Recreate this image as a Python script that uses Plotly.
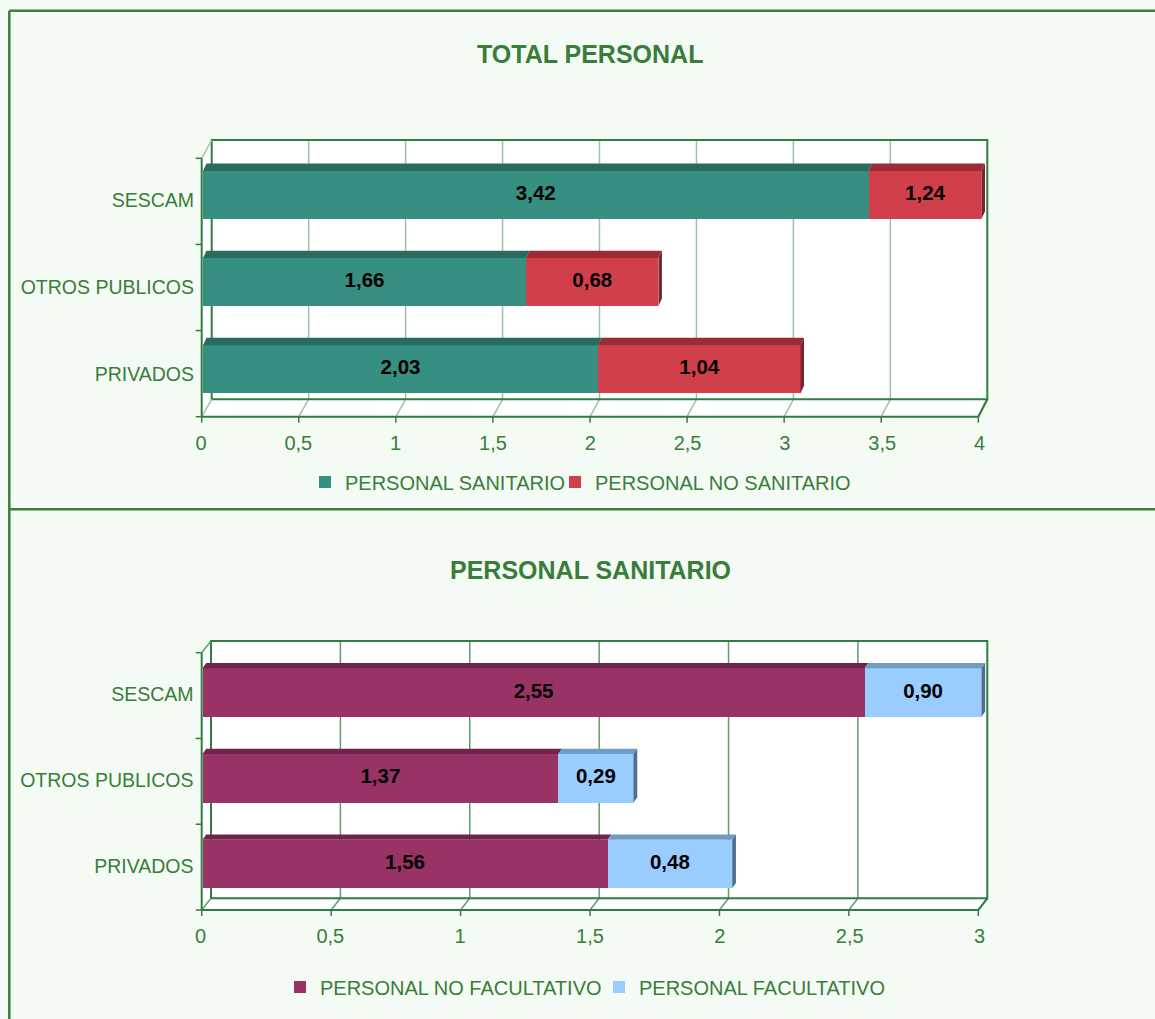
import plotly.graph_objects as go

# ---------------- data ----------------
categories = ["SESCAM", "OTROS PUBLICOS", "PRIVADOS"]

total_series_names = ["PERSONAL SANITARIO", "PERSONAL NO SANITARIO"]
total_sanitario = [3.42, 1.66, 2.03]
total_no_sanitario = [1.24, 0.68, 1.04]

san_series_names = ["PERSONAL NO FACULTATIVO", "PERSONAL FACULTATIVO"]
san_no_facultativo = [2.55, 1.37, 1.56]
san_facultativo = [0.90, 0.29, 0.48]

x1_tickvals = [0, 0.5, 1, 1.5, 2, 2.5, 3, 3.5, 4]
x1_ticktext = ["0", "0,5", "1", "1,5", "2", "2,5", "3", "3,5", "4"]
x2_tickvals = [0, 0.5, 1, 1.5, 2, 2.5, 3]
x2_ticktext = ["0", "0,5", "1", "1,5", "2", "2,5", "3"]

titles = ["TOTAL PERSONAL", "PERSONAL SANITARIO"]

# ---------------- style ----------------
W, H = 1155, 1019
BG = "#F4FBF4"
GREEN = "#3A7D3A"
DARK = "#2E7D46"
FONT = "Liberation Sans, Arial, sans-serif"

front_colors = [["#368F80", "#D13F4B"], ["#993366", "#99CCFF"]]
top_colors = [["#2A6B60", "#9B2B37"], ["#72234C", "#6F9CC4"]]
side_colors = [["#235A51", "#7A2430"], ["#5A1C3C", "#4E6E8E"]]

G = [
    dict(bar_x0=203.0, bar_x1=981.5, bar_y0=151.3, bar_y1=412.8,
         front_x0=201.7, front_x1=978.3, front_top=158.3, front_bottom=416.7,
         back_x0=211.7, back_x1=987.3, back_top=140.0, back_bottom=399.3,
         ddx=3.5, ddy=7.4, title_y=54, legend_y=482, legend_xs=[305, 555],
         grid="#9CC4A2", width=0.55, lshift=-5, xstand=16),
    dict(bar_x0=202.5, bar_x1=981.5, bar_y0=649.6, bar_y1=906.9,
         front_x0=201.7, front_x1=978.3, front_top=652.7, front_bottom=910.0,
         back_x0=211.0, back_x1=987.3, back_top=641.0, back_bottom=898.3,
         ddx=3.7, ddy=5.2, title_y=570, legend_y=987, legend_xs=[280, 599],
         grid="#5E9E68", width=0.566, lshift=-2, xstand=15),
]


def PX(x):
    return x / W


def PY(y):
    return 1 - y / H


def fmt(v):
    return f"{v:.2f}".replace(".", ",")


fig = go.Figure()
shapes = []
annotations = []

charts = [
    (total_series_names, [total_sanitario, total_no_sanitario], x1_tickvals, x1_ticktext),
    (san_series_names, [san_no_facultativo, san_facultativo], x2_tickvals, x2_ticktext),
]


def line(x0, y0, x1, y1, color, width):
    return dict(type="line", xref="paper", yref="paper", layer="below",
                x0=PX(x0), x1=PX(x1), y0=PY(y0), y1=PY(y1), line=dict(color=color, width=width))


legend_count = 0
for ci, (names, series, tickvals, ticktext) in enumerate(charts):
    g = G[ci]
    sfx = "" if ci == 0 else str(ci + 1)
    xa, ya = "x" + sfx, "y" + sfx
    xmax = tickvals[-1]
    n = len(categories)
    w = g["width"]

    # ----- 3D frame (paper coords) -----
    fs = (g["front_x1"] - g["front_x0"]) / xmax
    bs = (g["back_x1"] - g["back_x0"]) / xmax
    fxp = lambda v: g["front_x0"] + v * fs
    bxp = lambda v: g["back_x0"] + v * bs

    shapes.append(dict(type="path", xref="paper", yref="paper", layer="below",
                       path=f"M{PX(g['front_x0'])},{PY(g['front_top'])} L{PX(g['back_x0'])},{PY(g['back_top'])} "
                            f"L{PX(g['back_x0'])},{PY(g['back_bottom'])} L{PX(g['front_x0'])},{PY(g['front_bottom'])} Z",
                       fillcolor="white", line=dict(width=0)))
    shapes.append(dict(type="path", xref="paper", yref="paper", layer="below",
                       path=f"M{PX(g['front_x0'])},{PY(g['front_bottom'])} L{PX(g['front_x1'])},{PY(g['front_bottom'])} "
                            f"L{PX(g['back_x1'])},{PY(g['back_bottom'])} L{PX(g['back_x0'])},{PY(g['back_bottom'])} Z",
                       fillcolor="white", line=dict(width=0)))
    shapes.append(dict(type="rect", xref="paper", yref="paper", layer="below",
                       x0=PX(g["back_x0"]), x1=PX(g["back_x1"]), y0=PY(g["back_bottom"]), y1=PY(g["back_top"]),
                       fillcolor="white", line=dict(width=0)))
    for v in tickvals:
        if 0 < v < xmax:
            shapes.append(line(bxp(v), g["back_bottom"], bxp(v), g["back_top"], g["grid"], 1.5))
        col = DARK if v == xmax else g["grid"]
        shapes.append(line(fxp(v), g["front_bottom"], bxp(v), g["back_bottom"], col, 1.5))
        shapes.append(line(fxp(v), g["front_bottom"], fxp(v), g["front_bottom"] + 6, GREEN, 1.5))
    shapes.append(dict(type="path", xref="paper", yref="paper", layer="below",
                       path=f"M{PX(g['back_x0'])},{PY(g['back_bottom'])} L{PX(g['back_x0'])},{PY(g['back_top'])} "
                            f"L{PX(g['back_x1'])},{PY(g['back_top'])} L{PX(g['back_x1'])},{PY(g['back_bottom'])} "
                            f"L{PX(g['back_x0'])},{PY(g['back_bottom'])}",
                       line=dict(color=DARK, width=2)))
    shapes.append(line(g["front_x0"], g["front_top"], g["back_x0"], g["back_top"], g["grid"], 1.5))
    shapes.append(line(g["front_x0"], g["front_bottom"], g["front_x1"], g["front_bottom"], DARK, 2))
    shapes.append(line(g["front_x1"], g["front_bottom"], g["back_x1"], g["back_bottom"], DARK, 2))
    shapes.append(line(g["front_x0"], g["front_top"], g["front_x0"], g["front_bottom"], DARK, 2))
    step = (g["front_bottom"] - g["front_top"]) / n
    for k in range(n + 1):
        yy = g["front_top"] + k * step
        shapes.append(line(g["front_x0"] - 6, yy, g["front_x0"], yy, GREEN, 1.5))

    # ----- bars (each series gets its own legend box, placed like the original) -----
    for si, (name, vals) in enumerate(zip(names, series)):
        legend_count += 1
        leg = "legend" if legend_count == 1 else f"legend{legend_count}"
        fig.add_trace(go.Bar(
            orientation="h", x=vals, y=categories, name=name, width=w,
            marker=dict(color=front_colors[ci][si], line=dict(width=0)),
            xaxis=xa, yaxis=ya, legend=leg, showlegend=True, hoverinfo="skip",
        ))
        fig.update_layout(**{
            leg: dict(orientation="h", x=PX(g["legend_xs"][si]), y=PY(g["legend_y"]), xanchor="left",
                      yanchor="middle", bgcolor="rgba(0,0,0,0)",
                      font=dict(family=FONT, size=20, color=GREEN),
                      itemclick=False, itemdoubleclick=False)
        })

    # 3D top / side faces (axis-domain coords computed from data)
    dom_w = g["bar_x1"] - g["bar_x0"]
    dom_h = g["bar_y1"] - g["bar_y0"]
    dxf = g["ddx"] / dom_w
    dyf = g["ddy"] / dom_h
    r0, r1 = n - 0.5, -0.5
    yfrac = lambda y: (y - r0) / (r1 - r0)
    xfrac = lambda v: v / xmax
    label_x, label_y, label_t = [], [], []
    for i, cat in enumerate(categories):
        base = 0.0
        for si, vals in enumerate(series):
            s = base
            e = base + vals[i]
            base = e
            if s >= xmax:
                continue
            ev = min(e, xmax)
            xs, xe = xfrac(s), xfrac(ev)
            yt = yfrac(i - w / 2)
            yb = yfrac(i + w / 2)
            shapes.append(dict(type="path", xref=xa + " domain", yref=ya + " domain", layer="above",
                               path=f"M{xs},{yt} L{xe},{yt} L{xe + dxf},{yt + dyf} L{xs + dxf},{yt + dyf} Z",
                               fillcolor=top_colors[ci][si], line=dict(width=0)))
            if si == len(series) - 1:
                shapes.append(dict(type="path", xref=xa + " domain", yref=ya + " domain", layer="above",
                                   path=f"M{xe},{yb} L{xe},{yt} L{xe + dxf},{yt + dyf} L{xe + dxf},{yb + dyf} Z",
                                   fillcolor=side_colors[ci][si], line=dict(width=0)))
            label_x.append((s + ev) / 2)
            label_y.append(cat)
            label_t.append(fmt(vals[i]))
    fig.add_trace(go.Scatter(
        x=label_x, y=label_y, text=label_t, mode="text", xaxis=xa, yaxis=ya,
        textfont=dict(family=FONT, size=20.5, color="black", weight="bold"),
        showlegend=False, hoverinfo="skip", cliponaxis=False,
    ))

    fig.update_layout(**{
        "xaxis" + sfx: dict(domain=[PX(g["bar_x0"]), PX(g["bar_x1"])], range=[0, xmax], anchor=ya,
                            tickvals=tickvals, ticktext=ticktext, showgrid=False, zeroline=False,
                            showline=False, ticks="", ticklabelstandoff=g["xstand"], ticklabelshift=-2,
                            automargin=False,
                            tickfont=dict(family=FONT, size=20, color=GREEN), fixedrange=True),
        "yaxis" + sfx: dict(domain=[PY(g["bar_y1"]), PY(g["bar_y0"])], type="category",
                            categoryorder="array", categoryarray=categories, range=[r0, r1], anchor=xa,
                            showgrid=False, zeroline=False, showline=False, ticks="",
                            ticklabelstandoff=8, ticklabelshift=g["lshift"], automargin=False,
                            tickfont=dict(family=FONT, size=19.5, color=GREEN), fixedrange=True),
    })

    annotations.append(dict(xref="paper", yref="paper", x=PX(590), y=PY(g["title_y"]),
                            text=f"<b>{titles[ci]}</b>", showarrow=False, xanchor="center", yanchor="middle",
                            font=dict(family=FONT, size=25, color=GREEN)))

FR = "#3C7F3C"
shapes.append(line(9.3, 10.7, 1160, 10.7, FR, 2.5))
shapes.append(line(9.3, 10.7, 9.3, 1030, FR, 2.5))
shapes.append(line(9.3, 509.3, 1160, 509.3, FR, 2.5))

fig.update_layout(
    width=W, height=H, margin=dict(l=0, r=0, t=0, b=0, autoexpand=False),
    paper_bgcolor=BG, plot_bgcolor="rgba(0,0,0,0)",
    barmode="stack",
    shapes=shapes, annotations=annotations,
    font=dict(family=FONT, color=GREEN),
)

fig.write_html("out.html", config={"displayModeBar": False},
               post_script="document.body.style.margin='0';document.body.style.overflow='hidden';")
